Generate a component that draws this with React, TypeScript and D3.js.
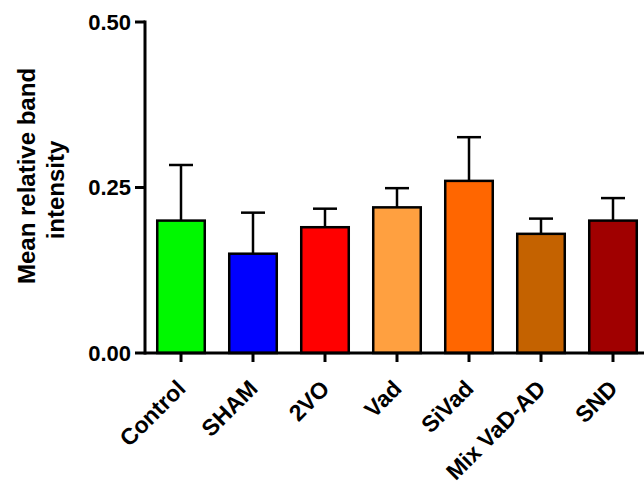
import React from "react";
import * as d3 from "d3";

const categories = ["Control", "SHAM", "2VO", "Vad", "SiVad", "Mix VaD-AD", "SND"];
const means = [0.2, 0.15, 0.19, 0.22, 0.26, 0.18, 0.2];
const errors = [0.084, 0.062, 0.028, 0.029, 0.066, 0.023, 0.034];
const colors = ["#00f800", "#0000ff", "#ff0000", "#ffa040", "#ff6600", "#c46200", "#a00000"];
const yTicks = [0, 0.25, 0.5];
const yTickLabels = ["0.00", "0.25", "0.50"];

const W = 644;
const H = 489;
const x0 = 145;
const step = 72;

export default function App() {
  const x = d3
    .scaleBand<string>()
    .domain(categories)
    .range([x0, x0 + step * categories.length])
    .paddingInner(0.34)
    .paddingOuter(0.17);
  const y = d3.scaleLinear().domain([0, 0.5]).range([353, 22]);
  const font = "'Liberation Sans', Arial, sans-serif";
  const bw = x.bandwidth();
  return (
    <svg width={W} height={H} style={{ position: "absolute", left: 0, top: 0, background: "#fff" }}>
      {categories.map((c, i) => {
        const cx = (x(c) as number) + bw / 2;
        return (
          <g key={c}>
            <line x1={cx} x2={cx} y1={y(means[i])} y2={y(means[i] + errors[i])} stroke="#000" strokeWidth={2.5} />
            <line x1={cx - 12} x2={cx + 12} y1={y(means[i] + errors[i])} y2={y(means[i] + errors[i])} stroke="#000" strokeWidth={2.5} />
            <rect x={x(c)} y={y(means[i])} width={bw} height={y(0) - y(means[i])} fill={colors[i]} stroke="#000" strokeWidth={2.5} />
            <line x1={cx} x2={cx} y1={y(0)} y2={y(0) + 9} stroke="#000" strokeWidth={3} />
            <text
              transform={`translate(${cx + 6},${y(0) + 37}) rotate(-45)`}
              textAnchor="end"
              fontFamily={font}
              fontWeight="bold"
              fontSize={23}
              fill="#000"
            >
              {c}
            </text>
          </g>
        );
      })}
      <line x1={x0} x2={W} y1={y(0)} y2={y(0)} stroke="#000" strokeWidth={3} />
      <line x1={x0} x2={x0} y1={y(0.5) - 1.5} y2={y(0) + 1.5} stroke="#000" strokeWidth={3} />
      {yTicks.map((t, i) => (
        <g key={t}>
          <line x1={x0 - 10} x2={x0} y1={y(t)} y2={y(t)} stroke="#000" strokeWidth={3} />
          <text x={131} y={y(t)} dy="0.35em" textAnchor="end" fontFamily={font} fontWeight="bold" fontSize={22} fill="#000">
            {yTickLabels[i]}
          </text>
        </g>
      ))}
      <text transform="translate(35,176) rotate(-90)" textAnchor="middle" fontFamily={font} fontWeight="bold" fontSize={24} fill="#000">
        Mean relative band
      </text>
      <text transform="translate(64,190) rotate(-90)" textAnchor="middle" fontFamily={font} fontWeight="bold" fontSize={24} fill="#000">
        intensity
      </text>
    </svg>
  );
}
